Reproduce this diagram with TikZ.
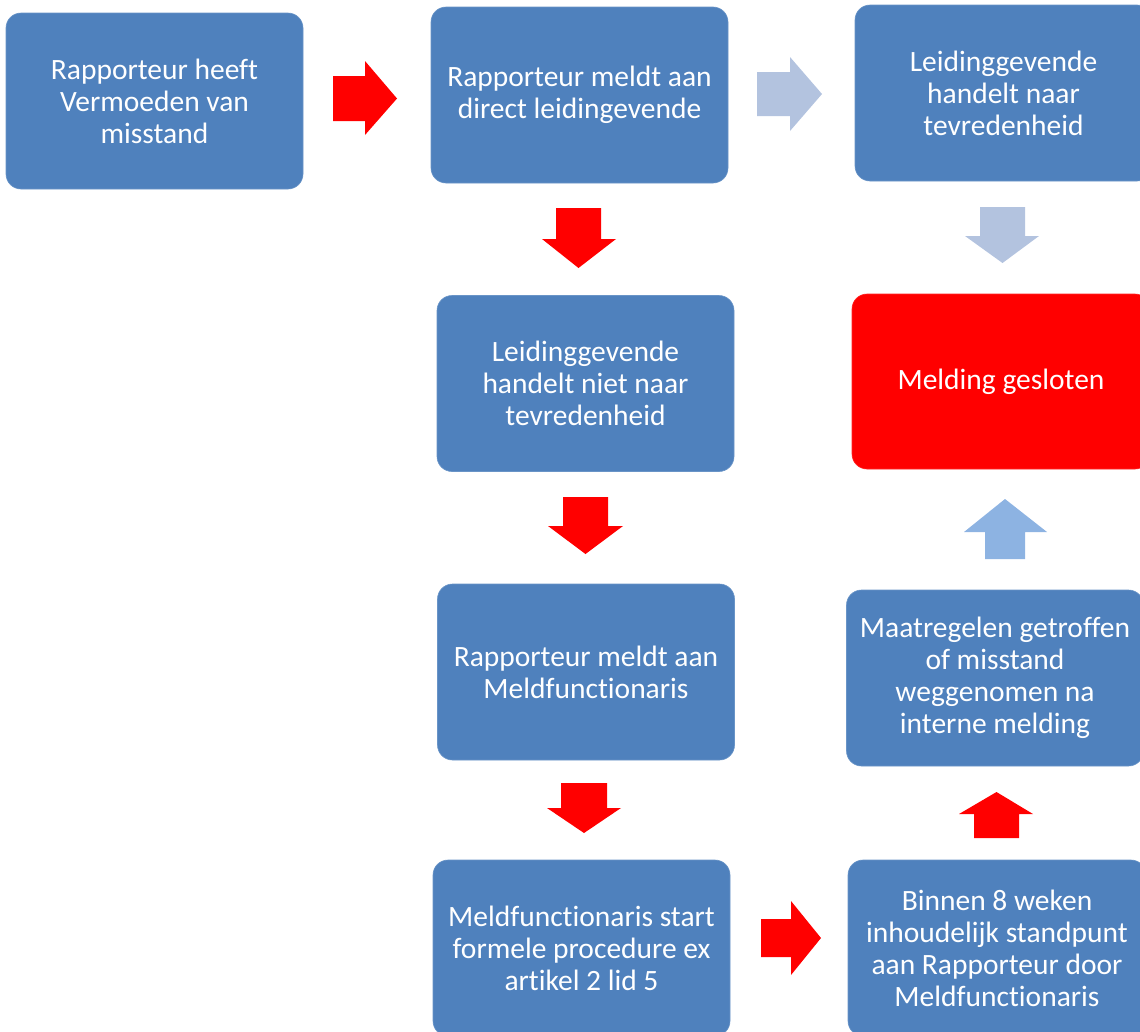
\documentclass[tikz,border=0pt]{standalone}
\usepackage{fontspec}
\setmainfont{Carlito}[Ligatures={NoCommon}]
\definecolor{boxblue}{HTML}{4F81BD}
\definecolor{boxred}{HTML}{FF0000}
\definecolor{paleblue}{HTML}{B3C3DF}
\definecolor{upblue}{HTML}{8DB3E2}
\tikzset{
  stepbox/.style={rectangle, rounded corners=15pt, fill=boxblue, draw=boxblue!85!white, line width=0.6pt,
    minimum width=297pt, minimum height=176pt, text=white, align=center, inner sep=0pt,
    font=\fontsize{29.5}{32}\selectfont},
  redbox/.style={stepbox, fill=boxred, draw=boxred!85!white},
}
% right arrow: x0, xh, xt, body top, body bottom, head top, head bottom
\newcommand{\rarrow}[8]{\fill[#1] (#2,#5) -- (#3,#5) -- (#3,#7) -- (#4,{(#5+#6)/2}) -- (#3,#8) -- (#3,#6) -- (#2,#6) -- cycle;}
% vertical arrow: y0 (body end), yh (head base), yt (tip), body left, body right, head left, head right
\newcommand{\varrow}[8]{\fill[#1] (#5,#2) -- (#5,#3) -- (#7,#3) -- ({(#5+#6)/2},#4) -- (#8,#3) -- (#6,#3) -- (#6,#2) -- cycle;}
\begin{document}
\begin{tikzpicture}[x=1pt,y=-1pt]
\useasboundingbox (0,0) rectangle (1140,1031);
\clip (0,0) rectangle (1140,1031);
\node[stepbox] (b1) at (154.5,101) {Rapporteur heeft\\Vermoeden van\\misstand};
\node[stepbox] (b2) at (579.5,95) {Rapporteur meldt aan\\direct leidingevende};
\node[stepbox] (b3) at (1003.5,93) {Leidinggevende\\handelt naar\\tevredenheid};
\node[stepbox] (b4) at (585.5,383.5) {Leidinggevende\\handelt niet naar\\tevredenheid};
\node[redbox, minimum height=175pt, minimum width=298pt] (b5) at (1001,381.5) {Melding gesloten};
\node[stepbox] (b6) at (586,672) {Rapporteur meldt aan\\Meldfunctionaris};
\node[stepbox] (b7) at (995,678) {Maatregelen getroffen\\of misstand\\weggenomen na\\interne melding};
\node[stepbox] (b8) at (581.5,948) {Meldfunctionaris start\\formele procedure ex\\artikel 2 lid 5};
\node[stepbox, minimum width=298pt] (b9) at (997,948) {Binnen 8 weken\\inhoudelijk standpunt\\aan Rapporteur door\\Meldfunctionaris};
% block arrows
\rarrow{boxred}{333}{365}{397}{76}{121}{61}{135}
\rarrow{paleblue}{757}{790}{822}{72}{116}{57}{131}
\rarrow{boxred}{761}{791}{821}{919}{957}{901}{975}
\varrow{paleblue}{207}{236}{263}{980}{1025}{965}{1039}
\varrow{upblue}{559}{532}{499}{985}{1025}{964}{1047}
\varrow{boxred}{838}{814}{792}{974}{1019}{959}{1033}
\varrow{boxred}{208}{239}{268}{556}{601}{542}{616}
\varrow{boxred}{497}{526}{554}{563}{608}{548}{623}
\varrow{boxred}{783}{808}{833}{561}{607}{547}{621}
\end{tikzpicture}
\end{document}
